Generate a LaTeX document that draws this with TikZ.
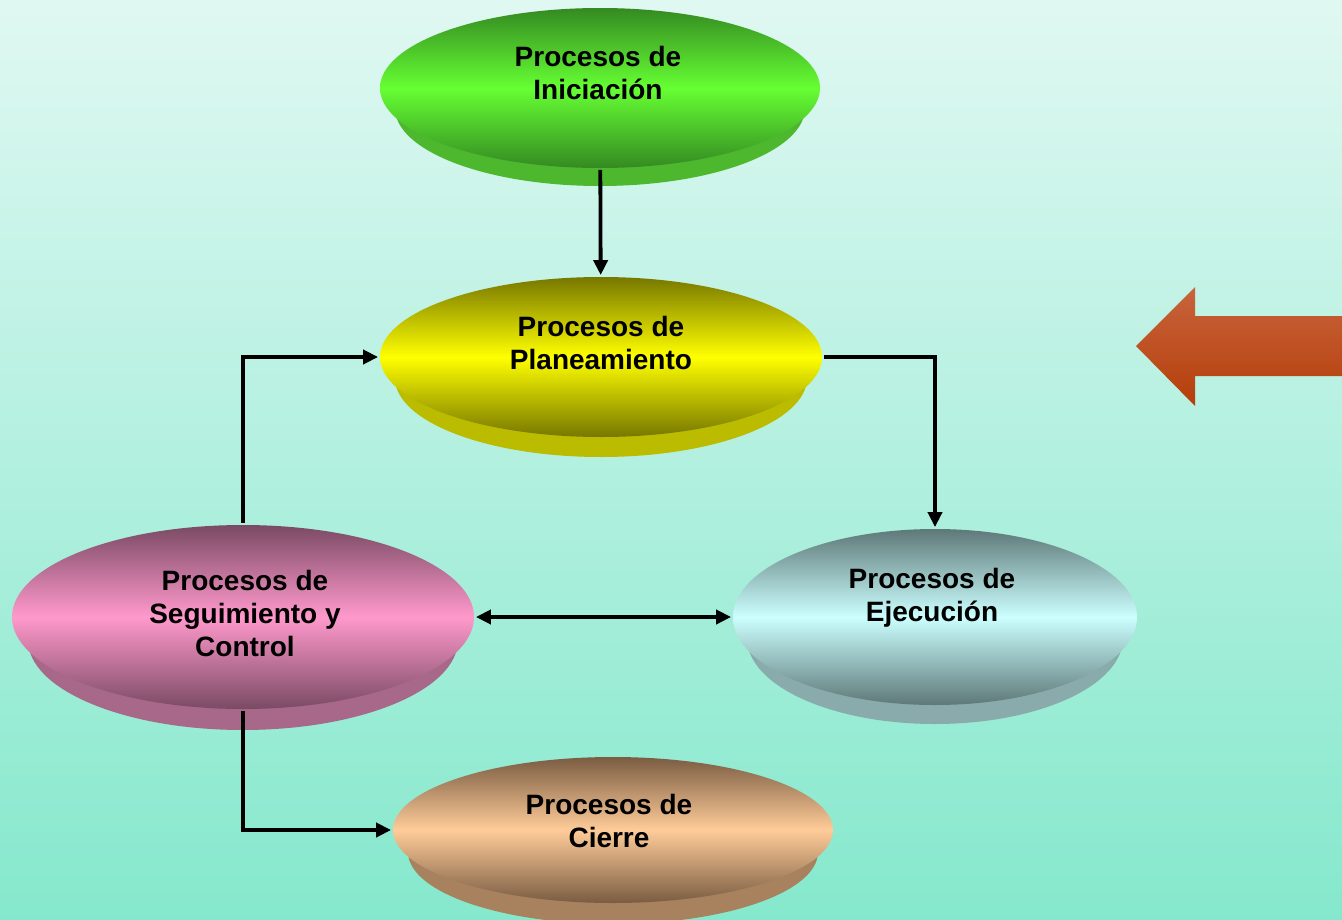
\documentclass[tikz,border=0pt]{standalone}
\usepackage{fontspec}
\setmainfont{Liberation Sans}
\usepackage{tikz}
\usetikzlibrary{arrows.meta,shapes.geometric}

\definecolor{bgtop}{HTML}{E0F8F2}
\definecolor{bgbot}{HTML}{85E8CC}
\definecolor{inilight}{HTML}{66FF33}
\definecolor{inidark}{HTML}{348A22}
\definecolor{iniside}{HTML}{4DB82E}
\definecolor{planlight}{HTML}{FFFF00}
\definecolor{plandark}{HTML}{777700}
\definecolor{planside}{HTML}{BBBB00}
\definecolor{seglight}{HTML}{FF99CC}
\definecolor{segdark}{HTML}{7A4A64}
\definecolor{segside}{HTML}{A8688A}
\definecolor{ejelight}{HTML}{CCFFFF}
\definecolor{ejedark}{HTML}{5E7878}
\definecolor{ejeside}{HTML}{8AABAB}
\definecolor{cielight}{HTML}{FFCC99}
\definecolor{ciedark}{HTML}{7A5C42}
\definecolor{cieside}{HTML}{A8815F}
\definecolor{arrtop}{HTML}{C8643C}
\definecolor{arrbot}{HTML}{B53E0A}

\begin{document}
\begin{tikzpicture}[x=1pt,y=-1pt,->,>={Triangle[length=15pt,width=14pt]},line width=3.8pt,
  face/.style={ellipse,inner sep=0pt,draw=none},
  base/.style={ellipse,inner sep=0pt,draw=none},
  label node/.style={align=center,font=\fontsize{28}{33}\selectfont\bfseries}]
  \shade[top color=bgtop,bottom color=bgbot] (0,0) rectangle (1342,919);
  \useasboundingbox (0,0) rectangle (1342,919);

  \node[base,fill=iniside,minimum width=410pt,minimum height=156pt] (ini base) at (600,108) {};
  \node[face,top color=inidark,bottom color=inidark,middle color=inilight,minimum width=440pt,minimum height=160pt] (ini) at (600,88) {};
  \node[label node] (ini text) at (598,73) {Procesos de\\Iniciación};

  \node[base,fill=planside,minimum width=412pt,minimum height=158pt] (plan base) at (601,378) {};
  \node[face,top color=plandark,bottom color=plandark,middle color=planlight,minimum width=442pt,minimum height=160pt] (plan) at (601,357) {};
  \node[label node] (plan text) at (601,343) {Procesos de\\Planeamiento};

  \node[base,fill=segside,minimum width=430pt,minimum height=180pt] (seg base) at (243,640) {};
  \node[face,top color=segdark,bottom color=segdark,middle color=seglight,minimum width=462pt,minimum height=184pt] (seg) at (243,617) {};
  \node[label node] (seg text) at (245,613) {Procesos de\\Seguimiento y\\Control};

  \node[base,fill=ejeside,minimum width=376pt,minimum height=172pt] (eje base) at (935,638) {};
  \node[face,top color=ejedark,bottom color=ejedark,middle color=ejelight,minimum width=404pt,minimum height=176pt] (eje) at (935,617) {};
  \node[label node] (eje text) at (932,598) {Procesos de\\Ejecución};

  \node[base,fill=cieside,minimum width=410pt,minimum height=144pt] (cie base) at (613,852) {};
  \node[face,top color=ciedark,bottom color=ciedark,middle color=cielight,minimum width=440pt,minimum height=146pt] (cie) at (613,830) {};
  \node[label node] (cie text) at (609,821) {Procesos de\\Cierre};

  \draw (ini) -- (plan);
  \draw (plan.east) -| (eje.north);
  \draw (seg.north) |- (plan.west);
  \draw[<->] (seg.east) -- (eje.west);
  \draw (seg.south) |- (cie.west);

  \shade[top color=arrtop,bottom color=arrbot,draw=none] (1342,316) -- (1195,316) -- (1195,287) -- (1136,346) -- (1195,406) -- (1195,376) -- (1342,376) -- cycle;
\end{tikzpicture}
\end{document}
